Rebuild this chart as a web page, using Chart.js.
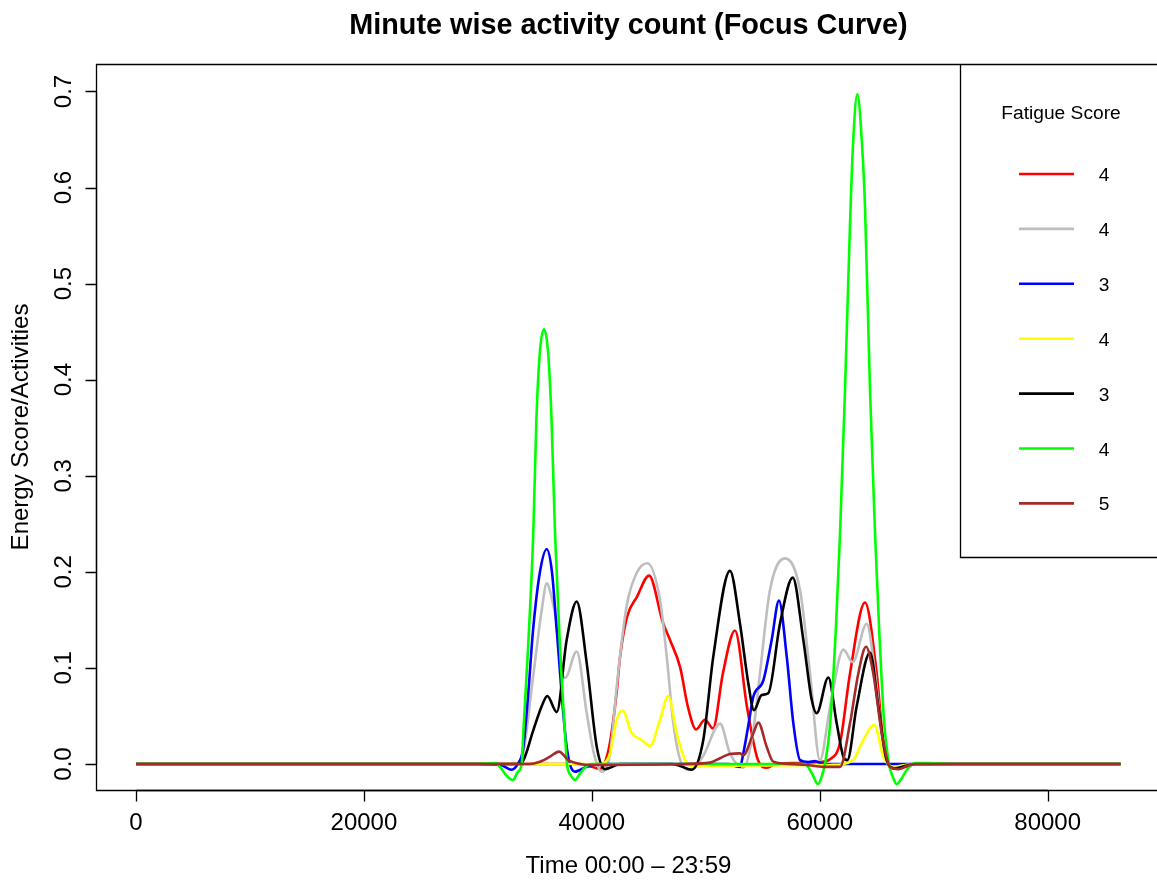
<!DOCTYPE html>
<html lang="en">
<head>
<meta charset="utf-8">
<title>Minute wise activity count (Focus Curve)</title>
<style>
    html, body { margin: 0; padding: 0; background: #fff; overflow: hidden; }
    #wrap { width: 1157px; height: 880px; }
</style>
</head>
<body>

<div id="wrap">
    <canvas id="myChart" width="1157" height="880"></canvas>
</div>

<script src="https://cdn.jsdelivr.net/npm/chart.js"></script>
<script>
    // [seconds since 00:00, score]
    const red = [
        [0, 0], [30000, 0], [39000, 0], [40000, -0.003], [40700, -0.005], [41100, 0],
        [41590, 0.022], [42180, 0.075], [42470, 0.111], [43090, 0.153], [43960, 0.174],
        [45020, 0.196], [46240, 0.147], [46860, 0.129], [47740, 0.101], [48440, 0.059],
        [49140, 0.036], [49930, 0.046], [50630, 0.037], [51510, 0.095], [52560, 0.139],
        [53620, 0.059], [54580, 0.004], [55370, -0.004], [56100, 0], [58000, 0.001],
        [60000, 0.002], [60900, 0.005], [61780, 0.022], [62650, 0.094], [63970, 0.168],
        [65000, 0.094], [65550, 0.025], [66160, -0.003], [66800, -0.005], [67500, -0.003],
        [68400, 0], [86399, 0]
    ];
    const gray = [
        [0, 0], [30000, 0], [33500, 0], [33960, 0.01], [34840, 0.09], [35600, 0.16],
        [36040, 0.188], [36500, 0.172], [36920, 0.146], [37350, 0.1], [37650, 0.0895],
        [38670, 0.117], [39550, 0.053], [40200, 0.01], [40870, -0.008], [41150, -0.005],
        [41590, 0.01], [42180, 0.08], [42600, 0.125], [43060, 0.165], [43940, 0.199],
        [44870, 0.209], [45980, 0.171], [46570, 0.112], [47150, 0.0425], [47890, 0],
        [48610, -0.006], [49750, 0.008], [51250, 0.042], [52120, 0.011], [53290, -0.004],
        [54170, 0.035], [54760, 0.095], [55630, 0.181], [56950, 0.214], [58270, 0.181],
        [59140, 0.095], [60020, 0.004], [60900, 0.059], [62070, 0.119], [62890, 0.106],
        [64120, 0.146], [64850, 0.095], [65580, 0.018], [66160, -0.003], [67000, -0.002],
        [68400, 0], [86399, 0]
    ];
    const blue = [
        [0, 0], [30000, 0], [32000, -0.001], [32970, -0.006], [33500, 0], [33960, 0.015],
        [34400, 0.07], [34840, 0.139], [35450, 0.2], [36040, 0.2235], [36500, 0.2],
        [36920, 0.139], [37790, 0.018], [38520, -0.008], [39550, -0.003], [40500, 0],
        [52000, 0], [52560, -0.002], [53000, -0.003], [53290, 0.011], [53730, 0.04],
        [54170, 0.07], [55050, 0.087], [55780, 0.129], [56420, 0.17], [57100, 0.112],
        [57680, 0.0425], [58270, 0.004], [59000, 0.002], [59580, 0.003], [60300, 0],
        [86399, 0]
    ];
    const yellow = [
        [0, 0], [30000, 0], [40000, 0], [40720, 0], [41590, 0.011], [42180, 0.046],
        [42710, 0.0555], [43500, 0.032], [44380, 0.025], [45100, 0.0187], [45980, 0.046],
        [46710, 0.0708], [47450, 0.032], [48180, 0.004], [49050, -0.003], [50000, -0.002],
        [61000, -0.001], [62940, 0.004], [63530, 0.018], [64790, 0.0406], [65580, 0.0076],
        [66450, -0.003], [67500, -0.001], [68400, 0], [86399, 0]
    ];
    const black = [
        [0, 0], [30000, 0], [33500, 0], [33960, 0.003], [34860, 0.035], [35600, 0.06],
        [36090, 0.0708], [36920, 0.054], [37790, 0.129], [38670, 0.169], [39550, 0.105],
        [40430, 0.018], [41160, -0.0055], [41590, -0.004], [42500, 0], [47000, 0],
        [47740, -0.002], [48760, -0.006], [49780, 0.025], [50660, 0.112], [52120, 0.201],
        [53000, 0.146], [53730, 0.084], [54230, 0.056], [54900, 0.0718], [55480, 0.0736],
        [56510, 0.146], [57630, 0.194], [58560, 0.129], [59290, 0.067], [59730, 0.0528],
        [60750, 0.09], [61490, 0.042], [62070, 0.0076], [62420, 0.004], [63240, 0.06],
        [64410, 0.116], [65140, 0.06], [65870, 0.004], [66600, -0.0045], [67500, -0.002],
        [68400, 0], [86399, 0]
    ];
    const green = [
        [0, 0], [30000, 0], [31500, 0.001], [32000, -0.004], [32500, -0.012], [33080, -0.0167],
        [33520, -0.008], [33845, 0], [33985, 0.032], [34400, 0.12], [34860, 0.24],
        [35140, 0.36], [35450, 0.43], [35800, 0.4525], [36150, 0.43], [36460, 0.36],
        [36770, 0.24], [37210, 0.12], [37645, 0.032], [37820, 0], [38170, -0.012],
        [38520, -0.0167], [38960, -0.01], [39580, -0.002], [40000, 0], [58700, 0],
        [59320, -0.01], [59850, -0.021], [60200, -0.012], [60460, 0], [60900, 0.04],
        [61425, 0.1436], [61780, 0.24], [62215, 0.389], [62650, 0.56], [62920, 0.645],
        [63295, 0.697], [63710, 0.645], [63970, 0.58], [64410, 0.389], [64850, 0.24],
        [65200, 0.1436], [65640, 0.045], [66080, 0], [66430, -0.014], [66750, -0.021],
        [67130, -0.016], [67650, -0.006], [68360, 0.001], [69670, 0.001], [71430, 0],
        [86399, 0]
    ];
    const brown = [
        [0, 0], [30000, 0], [34500, 0], [35450, 0.0024], [36330, 0.0076], [37120, 0.0128],
        [37940, 0.004], [38960, 0], [40000, -0.001], [48000, 0], [50370, 0.0014],
        [51250, 0.006], [52120, 0.0104], [53000, 0.011], [53290, 0.009], [54170, 0.032],
        [54610, 0.043], [55340, 0.018], [55920, 0.0024], [57390, 0], [58850, -0.001],
        [60310, -0.003], [61780, -0.003], [62650, 0.042], [63380, 0.094], [64060, 0.122],
        [64700, 0.094], [65440, 0.032], [66160, -0.003], [66890, -0.0055], [67700, -0.002],
        [68400, 0], [86399, 0]
    ];

    const series = [red, gray, blue, yellow, black, green, brown];
    const seriesColors = ['#FF0000', '#BEBEBE', '#0000FF', '#FFFF00', '#000000', '#00FF00', '#A52A2A'];
    const fatigueScores = ['4', '4', '3', '4', '3', '4', '5'];

    const xTicks = [0, 20000, 40000, 60000, 80000];
    const xTickLabels = ['0', '20000', '40000', '60000', '80000'];
    const yTicks = [0, 0.1, 0.2, 0.3, 0.4, 0.5, 0.6, 0.7];
    const yTickLabels = ['0.0', '0.1', '0.2', '0.3', '0.4', '0.5', '0.6', '0.7'];

    // R style plot range (4% extension), right edge falls just off the canvas
    const xMin = -3422, xMax = 89593, xPlotEnd = 89855;
    const yMin = -0.0271, yMax = 0.7286;

    const FONT = '"Liberation Sans", Arial, Helvetica, sans-serif';

    const rPlot = {
        id: 'rPlot',
        afterDraw(chart) {
            const ctx = chart.ctx;
            const area = chart.chartArea;
            const xs = chart.scales.x;
            const ys = chart.scales.y;
            const left = area.left - 0.5;
            const top = area.top + 0.5;
            const bottom = area.bottom + 0.5;

            ctx.save();
            ctx.strokeStyle = '#000';
            ctx.fillStyle = '#000';
            ctx.lineWidth = 1.3;

            // box (right side is off canvas)
            ctx.beginPath();
            ctx.moveTo(chart.width, top);
            ctx.lineTo(left, top);
            ctx.lineTo(left, bottom);
            ctx.lineTo(chart.width, bottom);
            ctx.stroke();

            // x axis
            ctx.font = '24px ' + FONT;
            ctx.textAlign = 'center';
            ctx.textBaseline = 'alphabetic';
            ctx.beginPath();
            ctx.moveTo(xs.getPixelForValue(xTicks[0]), bottom);
            ctx.lineTo(xs.getPixelForValue(xTicks[xTicks.length - 1]), bottom);
            xTicks.forEach(function (v) {
                const px = Math.round(xs.getPixelForValue(v)) + 0.5;
                ctx.moveTo(px, bottom);
                ctx.lineTo(px, bottom + 11);
            });
            ctx.stroke();
            xTicks.forEach(function (v, i) {
                ctx.fillText(xTickLabels[i], xs.getPixelForValue(v), 830);
            });

            // y axis
            ctx.beginPath();
            ctx.moveTo(left, ys.getPixelForValue(yTicks[0]));
            ctx.lineTo(left, ys.getPixelForValue(yTicks[yTicks.length - 1]));
            yTicks.forEach(function (v) {
                const py = Math.round(ys.getPixelForValue(v)) + 0.5;
                ctx.moveTo(left, py);
                ctx.lineTo(left - 11, py);
            });
            ctx.stroke();
            yTicks.forEach(function (v, i) {
                ctx.save();
                ctx.translate(71, ys.getPixelForValue(v));
                ctx.rotate(-Math.PI / 2);
                ctx.fillText(yTickLabels[i], 0, 0);
                ctx.restore();
            });

            // axis titles and main title
            const midX = (xs.getPixelForValue(xMin) + xs.getPixelForValue(xPlotEnd)) / 2;
            ctx.fillText('Time 00:00 \u2013 23:59', midX, 873);
            ctx.save();
            ctx.translate(28, (area.top + area.bottom) / 2);
            ctx.rotate(-Math.PI / 2);
            ctx.fillText('Energy Score/Activities', 0, 0);
            ctx.restore();

            ctx.font = 'bold 28.8px ' + FONT;
            ctx.fillText('Minute wise activity count (Focus Curve)', midX, 34);

            // legend
            ctx.lineWidth = 1.3;
            ctx.beginPath();
            ctx.moveTo(960.5, top);
            ctx.lineTo(960.5, 557.5);
            ctx.lineTo(chart.width, 557.5);
            ctx.stroke();

            ctx.font = '19.2px ' + FONT;
            ctx.fillText('Fatigue Score', 1061, 119);
            fatigueScores.forEach(function (s, i) {
                const ry = 174 + i * 54.9;
                ctx.strokeStyle = seriesColors[i];
                ctx.lineWidth = 2.6;
                ctx.beginPath();
                ctx.moveTo(1019, ry);
                ctx.lineTo(1074, ry);
                ctx.stroke();
                ctx.fillText(s, 1104, ry + 7);
            });
            ctx.restore();
        }
    };

    const config = {
        type: 'line',
        data: {
            datasets: series.map(function (pts, i) {
                return {
                    label: fatigueScores[i],
                    data: pts.map(function (p) { return { x: p[0], y: p[1] }; }),
                    borderColor: seriesColors[i],
                    borderWidth: 2.6,
                    pointRadius: 0,
                    fill: false,
                    cubicInterpolationMode: 'monotone',
                    order: series.length - i
                };
            })
        },
        options: {
            responsive: false,
            animation: false,
            devicePixelRatio: 1,
            layout: { padding: { left: 97, top: 64, right: 0, bottom: 90 } },
            scales: {
                x: { type: 'linear', display: false, min: xMin, max: xMax },
                y: { type: 'linear', display: false, min: yMin, max: yMax }
            },
            plugins: {
                legend: { display: false },
                title: { display: false },
                tooltip: { enabled: false }
            }
        },
        plugins: [rPlot]
    };

    const myChart = new Chart(document.getElementById('myChart'), config);
</script>

</body>
</html>
